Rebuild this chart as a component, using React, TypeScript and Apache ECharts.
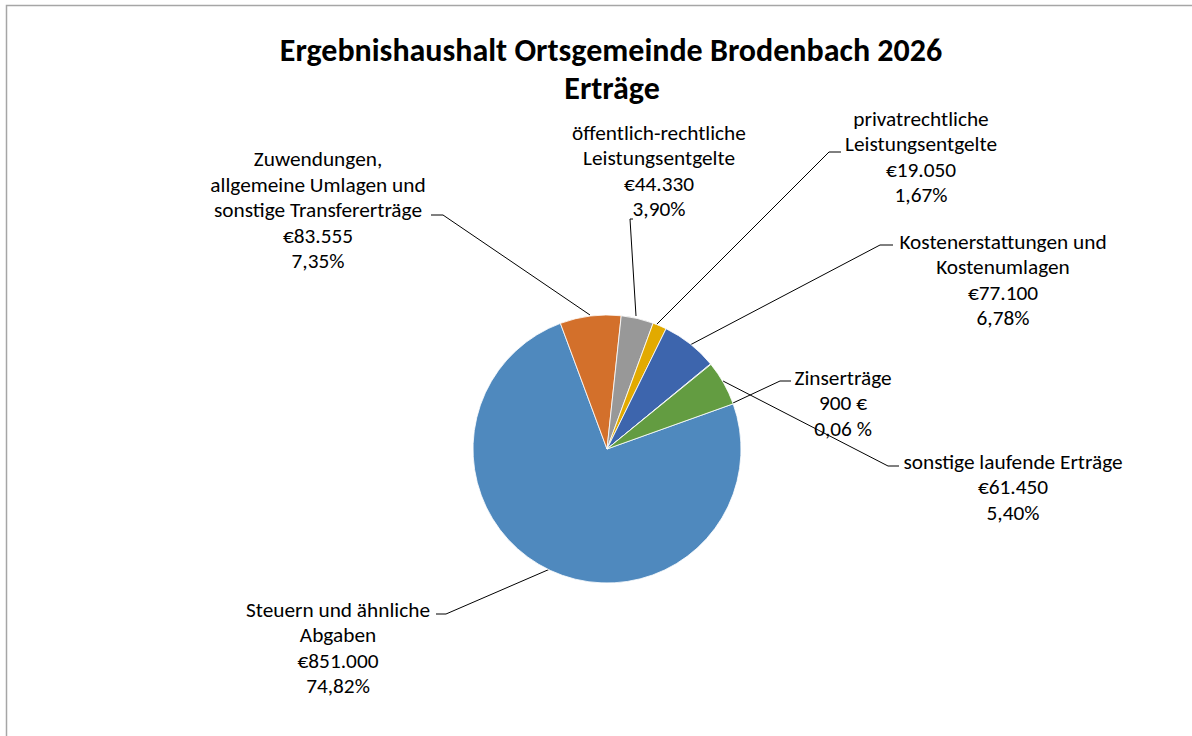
import React, { useEffect, useRef } from "react";
import * as echarts from "echarts";

// ---- data ----
const categories = [
  "Steuern und ähnliche\nAbgaben",
  "Zuwendungen,\nallgemeine Umlagen und\nsonstige Transfererträge",
  "öffentlich-rechtliche\nLeistungsentgelte",
  "privatrechtliche\nLeistungsentgelte",
  "Kostenerstattungen und\nKostenumlagen",
  "Zinserträge",
  "sonstige laufende Erträge",
];
const values = [851000, 83555, 44330, 19050, 77100, 900, 61450];
const valueTexts = ["€851.000", "€83.555", "€44.330", "€19.050", "€77.100", "900 €", "€61.450"];
const percentTexts = ["74,82%", "7,35%", "3,90%", "1,67%", "6,78%", "0,06 %", "5,40%"];
const colors = ["#4F89BE", "#D3702B", "#989898", "#E2AA00", "#3D65AD", "#264478", "#639C41"];

const titleLines = ["Ergebnishaushalt Ortsgemeinde Brodenbach 2026", "Erträge"];

// ---- layout (label centres and leader lines, in pixels) ----
const labelCenters: number[][] = [
  [338, 648],
  [318, 210],
  [659, 171],
  [921, 157],
  [1003, 280],
  [843, 403],
  [1013, 487],
];
const leaderLines: number[][][] = [
  [[550, 569], [446, 614], [436, 614]],
  [[590, 315], [443, 215], [431, 215]],
  [[636, 316], [630, 219], [633, 219]],
  [[655, 326], [829, 152], [841, 152]],
  [[690, 345], [880, 245], [893, 245]],
  [[733, 403], [780, 381], [791, 381]],
  [[723, 381], [888, 466], [899, 466]],
];

const FONT = "Carlito, Calibri, Lato, sans-serif";

export default function App() {
  const ref = useRef<HTMLDivElement>(null);
  useEffect(() => {
    document.body.style.margin = "0";
    if (!ref.current) return;
    const chart = echarts.init(ref.current, null, { renderer: "svg" });
    chart.setOption({
      animation: false,
      backgroundColor: "#ffffff",
      graphic: [
        {
          type: "rect",
          shape: { x: 6.5, y: 5.5, width: 1300, height: 900 },
          style: { fill: "none", stroke: "#a6a6a6", lineWidth: 1.5 },
          silent: true,
        },
        {
          type: "text",
          x: 611,
          y: 50,
          style: {
            text: titleLines[0],
            font: `bold 32px ${FONT}`,
            fill: "#000000",
            align: "center",
            verticalAlign: "middle",
          },
        },
        {
          type: "text",
          x: 612,
          y: 88,
          style: {
            text: titleLines[1],
            font: `bold 32px ${FONT}`,
            fill: "#000000",
            align: "center",
            verticalAlign: "middle",
          },
        },
      ],
      series: [
        {
          type: "pie",
          center: [607, 449],
          radius: 134,
          startAngle: 19.7,
          clockwise: true,
          avoidLabelOverlap: false,
          itemStyle: { borderColor: "#ffffff", borderWidth: 0.8 },
          data: categories.map((name, i) => ({
            name,
            value: values[i],
            itemStyle: { color: colors[i] },
          })),
          label: {
            show: true,
            position: "outer",
            formatter: (p: any) =>
              `${categories[p.dataIndex]}\n${valueTexts[p.dataIndex]}\n${percentTexts[p.dataIndex]}`,
            fontFamily: FONT,
            fontSize: 21.3,
            lineHeight: 25.5,
            color: "#000000",
            align: "center",
          },
          labelLine: {
            show: true,
            lineStyle: { color: "#000000", width: 1 },
          },
          labelLayout: (params: any) => {
            const i = params.dataIndex;
            return {
              x: labelCenters[i][0],
              y: labelCenters[i][1],
              align: "center",
              verticalAlign: "middle",
              labelLinePoints: leaderLines[i],
            };
          },
          emphasis: { disabled: true },
        },
      ],
    });
    return () => chart.dispose();
  }, []);
  return <div ref={ref} style={{ width: 1192, height: 736 }} />;
}
